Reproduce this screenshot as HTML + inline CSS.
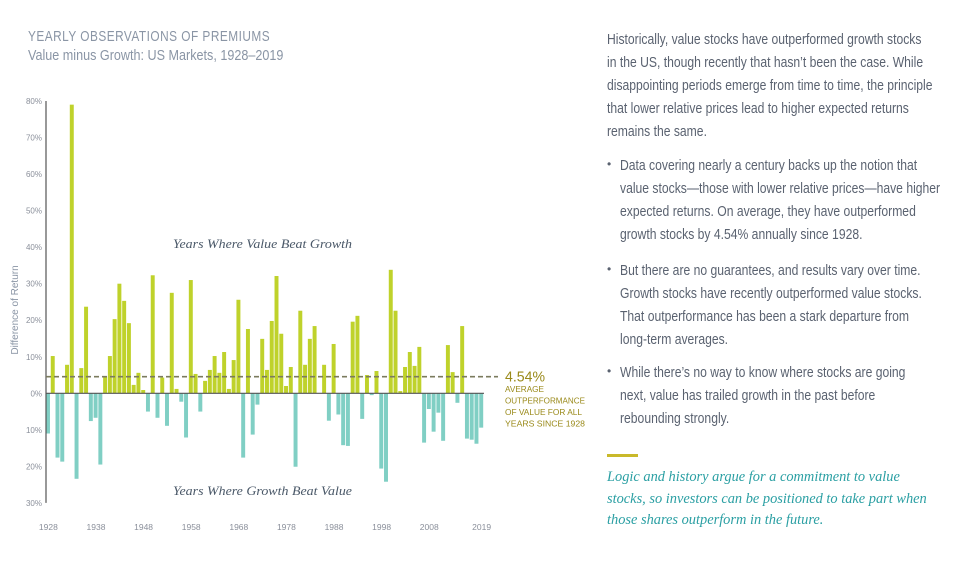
<!DOCTYPE html>
<html><head><meta charset="utf-8">
<style>
body{margin:0;width:970px;height:570px;background:#fff;position:relative;overflow:hidden;font-family:"Liberation Sans",sans-serif;}
.t{position:absolute;white-space:nowrap;transform-origin:0 0;}
.body{color:#5a6270;font-size:15px;left:607px;transform:scaleX(0.81);}
.bul{color:#5a6270;font-size:15px;left:620px;transform:scaleX(0.81);}
.dot{position:absolute;left:607px;color:#5a6270;font-size:12px;}
.q{color:#2a9fa3;font-family:"Liberation Serif",serif;font-style:italic;font-size:14.4px;left:607px;}
</style></head><body>
<div class="t" style="left:28px;top:28px;font-size:15px;color:#8a95a5;letter-spacing:0.6px;transform:scaleX(0.79);">YEARLY OBSERVATIONS OF PREMIUMS</div>
<div class="t" style="left:28px;top:47px;font-size:15px;color:#8a95a5;transform:scaleX(0.84);">Value minus Growth: US Markets, 1928–2019</div>

<svg id="chart" width="600" height="570" style="position:absolute;left:0;top:0;" xmlns="http://www.w3.org/2000/svg"></svg>

<div class="t body" style="top:28px;line-height:23px;">Historically, value stocks have outperformed growth stocks<br>in the US, though recently that hasn’t been the case. While<br>disappointing periods emerge from time to time, the principle<br>that lower relative prices lead to higher expected returns<br>remains the same.</div>

<div class="dot" style="top:157px;">•</div>
<div class="t bul" style="top:154px;line-height:23px;">Data covering nearly a century backs up the notion that<br>value stocks—those with lower relative prices—have higher<br>expected returns. On average, they have outperformed<br>growth stocks by 4.54% annually since 1928.</div>

<div class="dot" style="top:262px;">•</div>
<div class="t bul" style="top:259px;line-height:23px;">But there are no guarantees, and results vary over time.<br>Growth stocks have recently outperformed value stocks.<br>That outperformance has been a stark departure from<br>long-term averages.</div>

<div class="dot" style="top:364px;">•</div>
<div class="t bul" style="top:361px;line-height:23px;">While there’s no way to know where stocks are going<br>next, value has trailed growth in the past before<br>rebounding strongly.</div>

<div style="position:absolute;left:607px;top:454px;width:31px;height:3px;background:#c9b92a;"></div>
<div class="t q" style="top:467px;line-height:21.5px;">Logic and history argue for a commitment to value<br>stocks, so investors can be positioned to take part when<br>those shares outperform in the future.</div>

<script>
const years = [];
for (let y = 1928; y <= 2019; y++) years.push(y);
const premiums = [-11.0,10.2,-17.6,-18.7,7.8,79.0,-23.4,6.9,23.7,-7.6,-6.7,-19.5,4.6,10.2,20.3,30.0,25.3,19.2,2.3,5.6,0.9,-5.0,32.3,-6.7,4.3,-8.9,27.5,1.2,-2.3,-12.1,31.0,5.3,-5.0,3.4,6.4,10.2,5.6,11.3,1.2,9.1,25.6,-17.6,17.6,-11.3,-3.1,14.9,6.4,19.8,32.1,16.3,2.0,7.2,-20.1,22.6,7.8,14.9,18.4,0.0,7.8,-7.5,13.5,-5.8,-14.2,-14.4,19.6,21.2,-7.0,5.0,-0.5,6.1,-20.6,-24.2,33.8,22.6,0.6,7.2,11.3,7.5,12.7,-13.5,-4.3,-10.5,-5.3,-13.0,13.2,5.8,-2.6,18.4,-12.4,-12.7,-13.8,-9.4];
const average = 4.54;
const yTicks = [80,70,60,50,40,30,20,10,0,10,20,30];
const yTickValues = [80,70,60,50,40,30,20,10,0,-10,-20,-30];
const xLabels = [1928,1938,1948,1958,1968,1978,1988,1998,2008,2019];

const NS = "http://www.w3.org/2000/svg";
const svg = document.getElementById('chart');
const x0 = 46, x1 = 484, yTop = 101, yZero = 393.3;
const ppu = (yZero - yTop) / 80;
const step = (x1 - x0) / years.length;
const yS = v => yZero - v * ppu;
const xS = yr => x0 + (yr - 1928) * step;
function mk(tag, attrs) { const e = document.createElementNS(NS, tag); for (const k in attrs) e.setAttribute(k, attrs[k]); svg.appendChild(e); return e; }

premiums.forEach((v, i) => {
  const r = mk('rect', {x: xS(years[i]), y: Math.min(yS(v), yZero), width: step - 0.8, height: Math.abs(yS(v) - yZero), fill: v >= 0 ? '#bfd22b' : '#80cfc4'});
  
  
});

const ax = mk('line', {x1: x0, y1: yTop, x2: x0, y2: yS(-30), stroke: '#555', 'stroke-width': 1.2});


const zl = mk('line', {x1: x0, y1: yZero, x2: x1, y2: yZero, stroke: '#555', 'stroke-width': 1.2});



yTickValues.forEach((v, i) => {
  const t = mk('text', {x: 42, y: yS(v) + 3, 'text-anchor': 'end', 'font-size': 8, fill: '#8a8f9a', 'font-family': '"Liberation Sans",sans-serif'});
  t.textContent = yTicks[i] + '%';
  
  
});
xLabels.forEach(yr => {
  const t = mk('text', {x: xS(yr) + step / 2, y: 530, 'text-anchor': 'middle', 'font-size': 8.5, fill: '#8a8f9a', 'font-family': '"Liberation Sans",sans-serif'});
  t.textContent = yr;
  
  
});

const al = mk('line', {x1: x0, y1: yS(average), x2: 498, y2: yS(average), stroke: '#7b7b5e', 'stroke-width': 1.6, 'stroke-dasharray': '5,3'});


const av = mk('text', {x: 505, y: yS(average) + 5, 'font-size': 15, fill: '#9a8a1a', 'font-family': '"Liberation Sans",sans-serif', textLength: 40, lengthAdjust: 'spacingAndGlyphs'});
av.textContent = average + '%';


const capLines = ['AVERAGE','OUTPERFORMANCE','OF VALUE FOR ALL','YEARS SINCE 1928'];
const capLens = [39, 80, 77, 80];
capLines.forEach((s, i) => {
  const t = mk('text', {x: 505, y: 392 + i * 11.5, 'font-size': 8.5, fill: '#9a8a1a', 'font-family': '"Liberation Sans",sans-serif', textLength: capLens[i], lengthAdjust: 'spacingAndGlyphs'});
  t.textContent = s;
  
  
});

const yt = mk('text', {x: 18, y: 310, transform: 'rotate(-90 18 310)', 'text-anchor': 'middle', 'font-size': 10, fill: '#8a95a5', 'font-family': '"Liberation Sans",sans-serif'});
yt.textContent = 'Difference of Return';



const l1 = mk('text', {x: 173, y: 248, 'font-size': 12.5, 'font-style': 'italic', fill: '#4a5868', 'font-family': '"Liberation Serif",serif', textLength: 179, lengthAdjust: 'spacingAndGlyphs'});
l1.textContent = 'Years Where Value Beat Growth';


const l2 = mk('text', {x: 173, y: 495, 'font-size': 12.5, 'font-style': 'italic', fill: '#4a5868', 'font-family': '"Liberation Serif",serif', textLength: 179, lengthAdjust: 'spacingAndGlyphs'});
l2.textContent = 'Years Where Growth Beat Value';


</script>
</body></html>
